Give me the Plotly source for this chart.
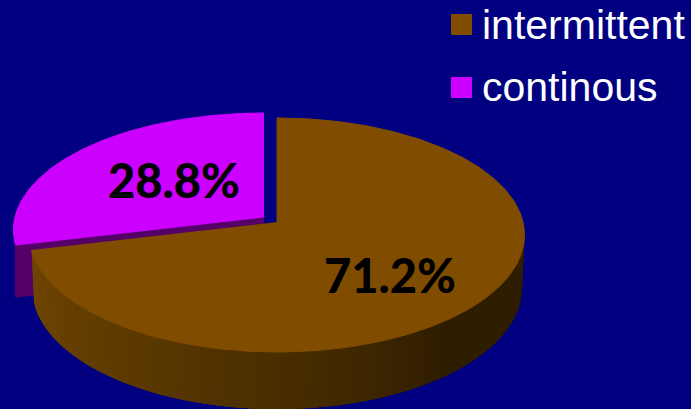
import numpy as np
import plotly.graph_objects as go

# Chart content
categories = ["intermittent", "continous"]
shares = [71.2, 28.8]
labels = ["71.2%", "28.8%"]

# Colours
BACKGROUND = "#000080"
FACE_COLOURS = ["#7f4c00", "#cc00ff"]
PURPLE_WALL = "#5f0078"
PURPLE_EDGE = "#540068"
# Shade of the brown rim from the left end (0) round to the right end (1)
WALL_STOPS = [0.0, 0.20, 0.43, 0.65, 0.90, 1.0]
WALL_SHADES = [(112, 69, 0), (96, 60, 0), (74, 46, 0), (47, 29, 0), (46, 29, 0), (58, 37, 0)]

W, H = 691, 409

# Tilted-disc projection in pixel space
TIP = (277.0, 222.0)
RX, RY, PERSPECTIVE = 246.0, 115.6, 0.111
PURPLE_SHIFT = (-13.0, -5.0)


def project(theta_deg, shift=(0.0, 0.0), stretch=1.0):
    """Clockwise angle from 12 o'clock to a rim point of the top face."""
    t = np.radians(theta_deg)
    u, v = np.sin(t), -np.cos(t)
    w = 1 - PERSPECTIVE * v
    x = TIP[0] + shift[0] + stretch * RX * u / w
    y = TIP[1] + shift[1] + RY * v / w
    return x, y


def lower(theta_deg, x, y):
    """Matching point on the bottom rim."""
    v = -np.cos(np.radians(theta_deg))
    depth = 52 + 5 * np.maximum(v, 0)
    return TIP[0] + (x - TIP[0]) * 0.99, y + depth


def polygon(xs, ys, colour, stroke=1):
    return go.Scatter(
        x=list(xs), y=list(ys), mode="lines", fill="toself", fillcolor=colour,
        line=dict(color=colour, width=stroke), hoverinfo="skip", showlegend=False,
    )


fig = go.Figure()

split = shares[0] / sum(shares) * 360.0

# Exploded purple slice: outer wall, inner wall, then its top face
arc = np.linspace(split, 360.0, 120)
px_top, py_top = project(arc, PURPLE_SHIFT, 1.012)
px_low, py_low = lower(arc, px_top, py_top)
mask = arc < split + 30
fig.add_trace(polygon(
    np.r_[px_top[mask], px_low[mask][::-1]],
    np.r_[py_top[mask], py_low[mask][::-1]], PURPLE_WALL))
edge_x, edge_y = px_top[0], py_top[0]
tip_x, tip_y = TIP[0] + PURPLE_SHIFT[0], TIP[1] + PURPLE_SHIFT[1]
fig.add_trace(polygon(
    [tip_x, edge_x, edge_x, tip_x],
    [tip_y, edge_y, edge_y + 52, tip_y + 52], PURPLE_EDGE))
fig.add_trace(polygon(np.r_[tip_x, px_top], np.r_[tip_y, py_top], FACE_COLOURS[1]))

# Shaded rim of the brown slice; every panel runs under the next ones so no seams show
rim = np.linspace(split, 80.0, 140)
for i in range(len(rim) - 1):
    span = rim[i:i + 6]
    x_top, y_top = project(span)
    x_low, y_low = lower(span, x_top, y_top)
    s = (split - rim[i]) / (split - 80.0)
    shade = [np.interp(s, WALL_STOPS, [c[j] for c in WALL_SHADES]) for j in range(3)]
    colour = "rgb({:.0f},{:.0f},{:.0f})".format(*shade)
    fig.add_trace(polygon(
        np.r_[x_top, x_low[::-1]], np.r_[y_top, y_low[::-1]], colour, stroke=0))

# Brown top face
arc = np.linspace(0.0, split, 300)
bx, by = project(arc)
fig.add_trace(polygon(np.r_[TIP[0], bx], np.r_[TIP[1], by], FACE_COLOURS[0]))

# Legend swatches
fig.add_trace(go.Scatter(
    x=[461.5, 461.5], y=[24.5, 87.5], mode="markers",
    marker=dict(symbol="square", size=21, color=FACE_COLOURS, line=dict(width=0)),
    hoverinfo="skip", showlegend=False,
))

annotations = []
for name, y in zip(categories, [25, 87]):
    annotations.append(dict(
        x=479.5, y=y, text=name, showarrow=False, xanchor="left", yanchor="middle",
        font=dict(family="Liberation Sans", size=41, color="white"),
    ))
for text, x, y in zip(labels, [390, 173.5], [275, 180]):
    annotations.append(dict(
        x=x, y=y, text=text, showarrow=False,
        xanchor="center", yanchor="middle",
        font=dict(family="Lato", size=47, color="black", weight=900),
    ))

fig.update_layout(
    width=W, height=H, margin=dict(l=0, r=0, t=0, b=0),
    paper_bgcolor=BACKGROUND, plot_bgcolor=BACKGROUND, showlegend=False,
    xaxis=dict(range=[0, W], visible=False, fixedrange=True),
    yaxis=dict(range=[H, 0], visible=False, fixedrange=True),
    annotations=annotations,
)

fig.write_html("out.html", config={"displayModeBar": False})
